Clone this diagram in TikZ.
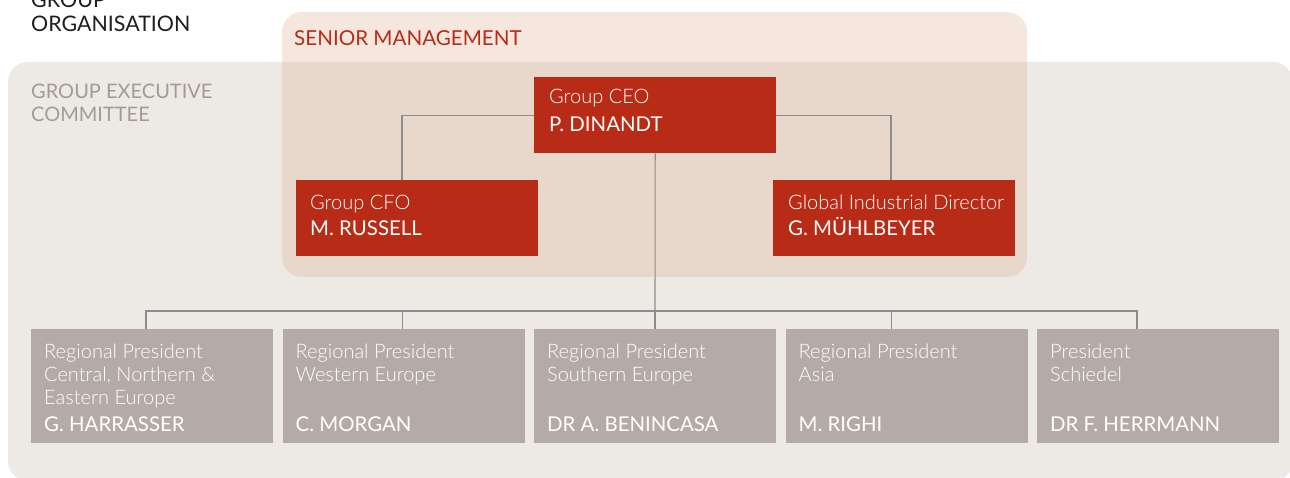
\documentclass[tikz,border=0pt]{standalone}
\usepackage{fontspec}
\setmainfont{Lato}
\newfontfamily\lightfont{Lato Light}
\usetikzlibrary{calc}

\definecolor{brandred}{HTML}{B82C17}
\definecolor{panelgray}{HTML}{EDEAE6}
\definecolor{seniortint}{HTML}{DEA887}
\definecolor{regiongray}{HTML}{B5ABA6}
\definecolor{linegray}{HTML}{8C8C8C}
\definecolor{headgray}{HTML}{A39A94}
\definecolor{inkdark}{HTML}{1E1E1E}

\tikzset{
  redbox/.style={fill=brandred, draw=none, minimum width=242pt, minimum height=76pt,
    anchor=north west, inner sep=0pt},
  regionbox/.style={fill=regiongray, draw=none, minimum width=242pt, minimum height=114pt,
    anchor=north west, inner sep=0pt},
  roletxt/.style={anchor=base west, inner sep=0pt, text=white,
    font=\lightfont\fontsize{20}{23}\selectfont},
  nametxt/.style={anchor=base west, inner sep=0pt, text=white,
    font=\fontsize{20.4}{23}\selectfont},
  headtxt/.style={anchor=base west, inner sep=0pt, font=\fontsize{20}{23}\selectfont},
  link/.style={draw=linegray, line width=1.1pt},
}

\begin{document}
\begin{tikzpicture}[x=1pt,y=-1pt]
\useasboundingbox (0,0) rectangle (1290,478);
\clip (0,0) rectangle (1290,478);

% background panels
\fill[panelgray, rounded corners=20pt] (8,62) rectangle (1293,481);
\fill[seniortint, opacity=0.28, rounded corners=20pt] (282,12) rectangle (1027,277);

% headings
\node[headtxt, text=inkdark, font=\fontsize{21.4}{24}\selectfont] (hgroup) at (31,8) {GROUP};
\node[headtxt, text=inkdark, font=\fontsize{21.4}{24}\selectfont] (horg) at (31,32) {ORGANISATION};
\node[headtxt, text=headgray] (hexec) at (31,99) {GROUP EXECUTIVE};
\node[headtxt, text=headgray] (hcomm) at (31,122) {COMMITTEE};
\node[headtxt, text=brandred, font=\fontsize{20.6}{23}\selectfont] (hsenior) at (294,46) {SENIOR MANAGEMENT};

% senior management boxes
\node[redbox] (ceo) at (534,77) {};
\node[redbox] (cfo) at (296,180) {};
\node[redbox] (gid) at (773,180) {};

% regional boxes
\node[regionbox] (r1) at (31,329) {};
\node[regionbox] (r2) at (282.5,329) {};
\node[regionbox] (r3) at (534,329) {};
\node[regionbox] (r4) at (785.5,329) {};
\node[regionbox] (r5) at (1037,329) {};

% connectors
\coordinate (bus) at (655,311);
\draw[link] (ceo.west) -| ($(cfo.north west)+(106,0)$);
\draw[link] (ceo.east) -| ($(gid.north west)+(118,0)$);
\draw[link] (ceo.south) -- (bus);
\draw[link] ($(r1.north west)+(115,0)$) |- (bus) -| ($(r5.north west)+(100,0)$);
\draw[link] ($(r2.north west)+(120,0)$) -- ++(0,-18);
\draw[link] ($(r3.north west)+(121,0)$) -- ++(0,-18);
\draw[link] ($(r4.north west)+(106,0)$) -- ++(0,-18);

% senior management texts
\node[roletxt] at ($(ceo.north west)+(15,27)$) {Group CEO};
\node[nametxt] at ($(ceo.north west)+(15,55)$) {P. DINANDT};
\node[roletxt] at ($(cfo.north west)+(14,30)$) {Group CFO};
\node[nametxt] at ($(cfo.north west)+(14,56)$) {M. RUSSELL};
\node[roletxt] at ($(gid.north west)+(15,30)$) {Global Industrial Director};
\node[nametxt] at ($(gid.north west)+(15,56)$) {G. MÜHLBEYER};

% regional texts
\node[roletxt] at ($(r1.north west)+(13,29)$) {Regional President};
\node[roletxt] at ($(r1.north west)+(13,52)$) {Central, Northern \&};
\node[roletxt] at ($(r1.north west)+(13,75)$) {Eastern Europe};
\node[nametxt] at ($(r1.north west)+(13,102)$) {G. HARRASSER};

\node[roletxt] at ($(r2.north west)+(13,29)$) {Regional President};
\node[roletxt] at ($(r2.north west)+(13,52)$) {Western Europe};
\node[nametxt] at ($(r2.north west)+(13,102)$) {C. MORGAN};

\node[roletxt] at ($(r3.north west)+(13,29)$) {Regional President};
\node[roletxt] at ($(r3.north west)+(13,52)$) {Southern Europe};
\node[nametxt] at ($(r3.north west)+(13,102)$) {DR A. BENINCASA};

\node[roletxt] at ($(r4.north west)+(13,29)$) {Regional President};
\node[roletxt] at ($(r4.north west)+(13,52)$) {Asia};
\node[nametxt] at ($(r4.north west)+(13,102)$) {M. RIGHI};

\node[roletxt] at ($(r5.north west)+(13,29)$) {President};
\node[roletxt] at ($(r5.north west)+(13,52)$) {Schiedel};
\node[nametxt] at ($(r5.north west)+(13,102)$) {DR F. HERRMANN};
\end{tikzpicture}
\end{document}
